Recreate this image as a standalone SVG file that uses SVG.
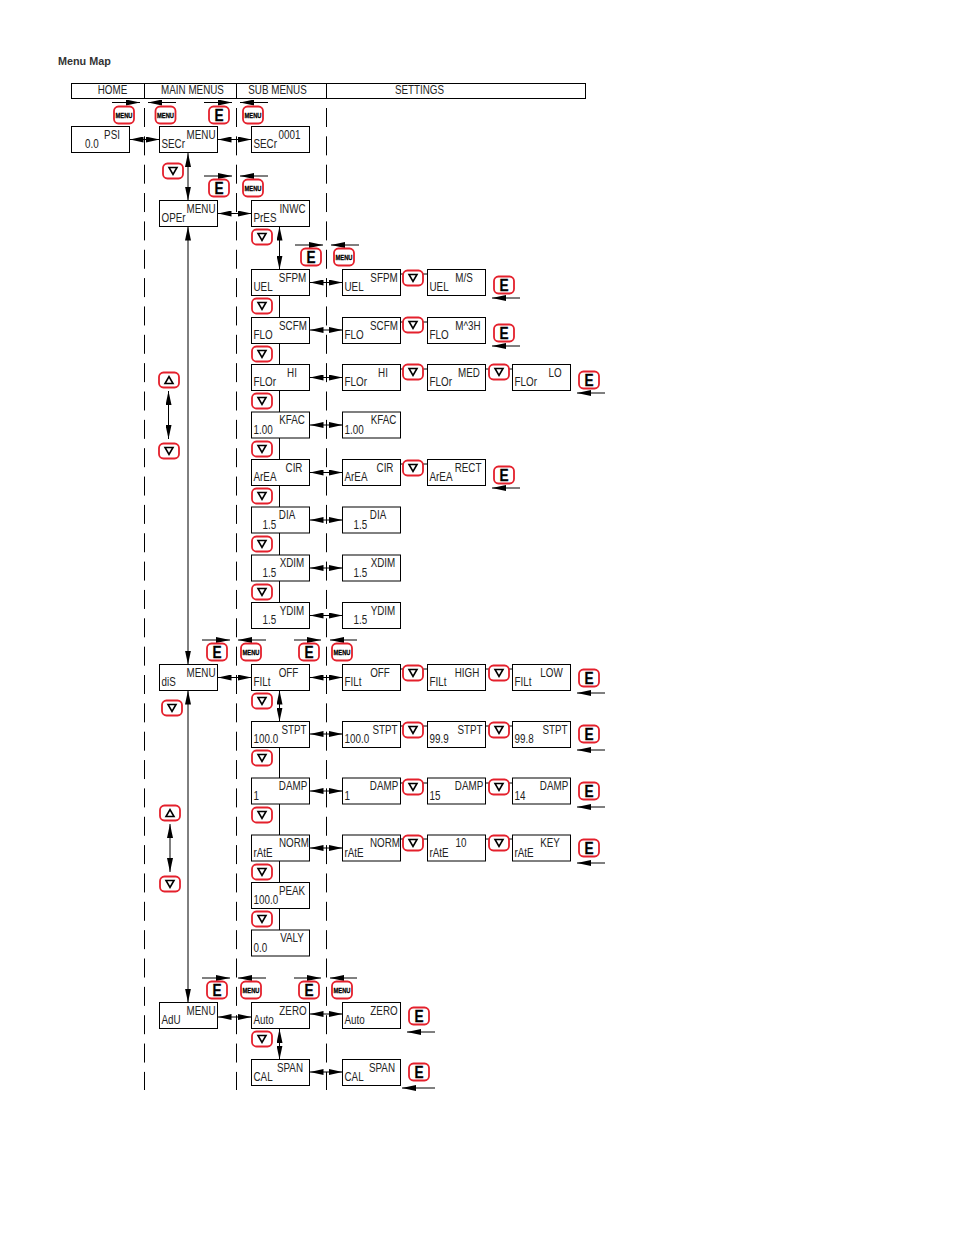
<svg xmlns="http://www.w3.org/2000/svg" width="954" height="1235" viewBox="0 0 954 1235">
<style>
.l{fill:none;stroke:#000;stroke-width:1}
.d{fill:none;stroke:#000;stroke-width:1;stroke-dasharray:19 9.35;stroke-dashoffset:19.35}
.a{fill:none;stroke:#000;stroke-width:1;marker-end:url(#h)}
.aa{fill:none;stroke:#000;stroke-width:1;marker-start:url(#h);marker-end:url(#h)}
.n{fill:#fff;stroke:#000;stroke-width:1}
.b{fill:#fff;stroke:#e4202c;stroke-width:1.8}
.tri{fill:none;stroke:#000;stroke-width:1.6}
text{font-family:"Liberation Sans",Arial,sans-serif;font-size:12px;fill:#222;transform-box:fill-box;transform-origin:0% 50%;transform:scaleX(.82)}
.c{text-anchor:middle;transform-origin:50% 50%}
.e{font-weight:bold;font-size:16px;text-anchor:middle;fill:#000;stroke:#000;stroke-width:.3;transform-origin:50% 50%;transform:scaleX(.85)}
.m{font-weight:bold;font-size:8px;text-anchor:middle;fill:#000;stroke:#000;stroke-width:.3;transform-origin:50% 50%;transform:scaleX(.72)}
.title{font-weight:bold;font-size:10.8px;fill:#333;transform:none}
</style>
<defs>
<marker id="h" viewBox="0 0 14 6" refX="14" refY="3" markerWidth="14" markerHeight="6" markerUnits="userSpaceOnUse" orient="auto-start-reverse"><path d="M0,0L14,3L0,6z" fill="#000"/></marker>
<rect id="box" class="n" width="58" height="26"/>
<rect id="be" class="b" x="-10" y="-8.5" width="20" height="17" rx="4.5"/>
<g id="bd"><rect class="b" x="-10" y="-7.5" width="20" height="15" rx="4.5"/><path class="tri" d="M-4,-3.5H4L0,3.5z"/></g>
<g id="bu"><rect class="b" x="-10" y="-7.5" width="20" height="15" rx="4.5"/><path class="tri" d="M-4,3.5H4L0,-3.5z"/></g>
</defs>

<text class="title" x="58" y="65">Menu Map</text>

<g id="header">
<rect x="71.5" y="83.5" width="514" height="15" fill="#fff" stroke="#000"/>
<path class="l" d="M144.500,83.500V98.500M236.500,83.500V98.500M326.500,83.500V98.500"/>
<text class="c" x="112.500" y="94">HOME</text>
<text class="c" x="192.500" y="94">MAIN MENUS</text>
<text class="c" x="277.500" y="94">SUB MENUS</text>
<text class="c" x="419.500" y="94">SETTINGS</text>
</g>

<g id="connectors">
<path class="d" d="M144.500,99V1090M236.500,99V1090M326.500,99V1090"/>
<path class="a" d="M112,102.500H140"/><path class="a" d="M176,102.500H148"/><path class="a" d="M204,102.500H232"/><path class="a" d="M268,102.500H240"/>
<path class="a" d="M204,176H232"/><path class="a" d="M268,176H240"/>
<path class="a" d="M295,245H323"/><path class="a" d="M359,245H331"/>
<path class="a" d="M202,640H230"/><path class="a" d="M266,640H238"/><path class="a" d="M294,640H321"/><path class="a" d="M357,640H330"/>
<path class="a" d="M202,978H230"/><path class="a" d="M266,978H238"/><path class="a" d="M294,978H321"/><path class="a" d="M357,978H330"/>
<path class="a" d="M520,298H492"/><path class="a" d="M520,346H492"/><path class="a" d="M605,393H577"/><path class="a" d="M520,488H492"/>
<path class="a" d="M605,693H577"/><path class="a" d="M605,750H577"/><path class="a" d="M605,807H577"/><path class="a" d="M605,863H577"/>
<path class="a" d="M435,1032H407"/><path class="a" d="M435,1088H402"/>

<path class="aa" d="M129.500,139.500H159.500"/><path class="aa" d="M217.500,139.500H251.500"/>
<path class="aa" d="M217.500,213.500H251.500"/>
<path class="aa" d="M188,153V200.500"/><path class="aa" d="M188,226.500V664.500"/><path class="aa" d="M188,690.500V1002.500"/>
<path class="aa" d="M168.500,391V439"/><path class="aa" d="M170,824V872"/>
<path class="aa" d="M279.500,226.500V269.500"/><path class="aa" d="M279.500,690.500V721.500"/><path class="aa" d="M279.500,1029V1059.500"/>
<path class="l" d="M279.500,295.500V317M279.500,343V364.500M279.500,390.500V412M279.500,438V459.500M279.500,485.500V507M279.500,533V555M279.500,581V602.500M279.500,747.500V778M279.500,804V835M279.500,861V882.500M279.500,908.500V930"/>
<path class="aa" d="M309.500,282.500H342.500"/><path class="aa" d="M309.500,330H342.500"/><path class="aa" d="M309.500,377.500H342.500"/><path class="aa" d="M309.500,425H342.500"/><path class="aa" d="M309.500,472.500H342.500"/><path class="aa" d="M309.500,520H342.500"/><path class="aa" d="M309.500,568H342.500"/><path class="aa" d="M309.500,615.500H342.500"/>
<path class="aa" d="M217.500,677.500H251.500"/><path class="aa" d="M309.500,677.500H342.500"/><path class="aa" d="M309.500,734H342.500"/><path class="aa" d="M309.500,791H342.500"/><path class="aa" d="M309.500,848H342.500"/>
<path class="aa" d="M217.500,1017H251.500"/><path class="aa" d="M309.500,1014H342.500"/><path class="aa" d="M309.500,1072H342.500"/>
<path class="l" d="M400.500,274H427.500M400.500,322H427.500M400.500,369H427.500M485.500,369H512.500M400.500,464H427.500M400.500,669H427.500M485.500,669H512.500M400.500,726H427.500M485.500,726H512.500M400.500,783H427.500M485.500,783H512.500M400.500,839H427.500M485.500,839H512.500"/>
</g>

<g id="home" transform="translate(71.500 126.500)"><use href="#box"/><text class="c" x="40.500" y="12.500">PSI</text><text x="13.500" y="22">0.0</text></g>
<g id="secr-main" transform="translate(159.500 126.500)"><use href="#box"/><text class="c" x="41.500" y="12.500">MENU</text><text x="2" y="22">SECr</text></g>
<g id="secr-sub" transform="translate(251.500 126.500)"><use href="#box"/><text class="c" x="38" y="12.500">0001</text><text x="2" y="22">SECr</text></g>
<g id="oper-main" transform="translate(159.500 200.500)"><use href="#box"/><text class="c" x="41.500" y="12.500">MENU</text><text x="2" y="22">OPEr</text></g>
<g id="pres" transform="translate(251.500 200.500)"><use href="#box"/><text class="c" x="41" y="12.500">INWC</text><text x="2" y="22">PrES</text></g>

<g id="uel-sub" transform="translate(251.500 269.500)"><use href="#box"/><text class="c" x="41" y="12.500">SFPM</text><text x="2" y="22">UEL</text></g>
<g id="uel-1" transform="translate(342.500 269.500)"><use href="#box"/><text class="c" x="41.500" y="12.500">SFPM</text><text x="2" y="22">UEL</text></g>
<g id="uel-2" transform="translate(427.500 269.500)"><use href="#box"/><text class="c" x="36.500" y="12.500">M/S</text><text x="2" y="22">UEL</text></g>

<g id="flo-sub" transform="translate(251.500 317.500)"><use href="#box"/><text class="c" x="41.500" y="12.500">SCFM</text><text x="2" y="22">FLO</text></g>
<g id="flo-1" transform="translate(342.500 317.500)"><use href="#box"/><text class="c" x="41.500" y="12.500">SCFM</text><text x="2" y="22">FLO</text></g>
<g id="flo-2" transform="translate(427.500 317.500)"><use href="#box"/><text class="c" x="40.500" y="12.500">M^3H</text><text x="2" y="22">FLO</text></g>

<g id="flor-sub" transform="translate(251.500 364.500)"><use href="#box"/><text class="c" x="40.500" y="12.500">HI</text><text x="2" y="22">FLOr</text></g>
<g id="flor-1" transform="translate(342.500 364.500)"><use href="#box"/><text class="c" x="40.500" y="12.500">HI</text><text x="2" y="22">FLOr</text></g>
<g id="flor-2" transform="translate(427.500 364.500)"><use href="#box"/><text class="c" x="41.500" y="12.500">MED</text><text x="2" y="22">FLOr</text></g>
<g id="flor-3" transform="translate(512.500 364.500)"><use href="#box"/><text class="c" x="42.500" y="12.500">LO</text><text x="2" y="22">FLOr</text></g>

<g id="kfac-sub" transform="translate(251.500 412)"><use href="#box"/><text class="c" x="40.500" y="12.500">KFAC</text><text x="2" y="22">1.00</text></g>
<g id="kfac-1" transform="translate(342.500 412)"><use href="#box"/><text class="c" x="41" y="12.500">KFAC</text><text x="2" y="22">1.00</text></g>

<g id="area-sub" transform="translate(251.500 459.500)"><use href="#box"/><text class="c" x="42.500" y="12.500">CIR</text><text x="2" y="22">ArEA</text></g>
<g id="area-1" transform="translate(342.500 459.500)"><use href="#box"/><text class="c" x="42.500" y="12.500">CIR</text><text x="2" y="22">ArEA</text></g>
<g id="area-2" transform="translate(427.500 459.500)"><use href="#box"/><text class="c" x="40.500" y="12.500">RECT</text><text x="2" y="22">ArEA</text></g>

<g id="dia-sub" transform="translate(251.500 507)"><use href="#box"/><text class="c" x="35.500" y="12.500">DIA</text><text x="11" y="22">1.5</text></g>
<g id="dia-1" transform="translate(342.500 507)"><use href="#box"/><text class="c" x="35.500" y="12.500">DIA</text><text x="11" y="22">1.5</text></g>
<g id="xdim-sub" transform="translate(251.500 555)"><use href="#box"/><text class="c" x="40.500" y="12.500">XDIM</text><text x="11" y="22">1.5</text></g>
<g id="xdim-1" transform="translate(342.500 555)"><use href="#box"/><text class="c" x="40.500" y="12.500">XDIM</text><text x="11" y="22">1.5</text></g>
<g id="ydim-sub" transform="translate(251.500 602.500)"><use href="#box"/><text class="c" x="40.500" y="12.500">YDIM</text><text x="11" y="22">1.5</text></g>
<g id="ydim-1" transform="translate(342.500 602.500)"><use href="#box"/><text class="c" x="40.500" y="12.500">YDIM</text><text x="11" y="22">1.5</text></g>

<g id="dis-main" transform="translate(159.500 664.500)"><use href="#box"/><text class="c" x="41.500" y="12.500">MENU</text><text x="2" y="22">diS</text></g>
<g id="filt-sub" transform="translate(251.500 664.500)"><use href="#box"/><text class="c" x="37" y="12.500">OFF</text><text x="2" y="22">FILt</text></g>
<g id="filt-1" transform="translate(342.500 664.500)"><use href="#box"/><text class="c" x="37.500" y="12.500">OFF</text><text x="2" y="22">FILt</text></g>
<g id="filt-2" transform="translate(427.500 664.500)"><use href="#box"/><text class="c" x="39.500" y="12.500">HIGH</text><text x="2" y="22">FILt</text></g>
<g id="filt-3" transform="translate(512.500 664.500)"><use href="#box"/><text class="c" x="39" y="12.500">LOW</text><text x="2" y="22">FILt</text></g>

<g id="stpt-sub" transform="translate(251.500 721.500)"><use href="#box"/><text class="c" x="42.500" y="12.500">STPT</text><text x="2" y="22">100.0</text></g>
<g id="stpt-1" transform="translate(342.500 721.500)"><use href="#box"/><text class="c" x="42.500" y="12.500">STPT</text><text x="2" y="22">100.0</text></g>
<g id="stpt-2" transform="translate(427.500 721.500)"><use href="#box"/><text class="c" x="42.500" y="12.500">STPT</text><text x="2" y="22">99.9</text></g>
<g id="stpt-3" transform="translate(512.500 721.500)"><use href="#box"/><text class="c" x="42.500" y="12.500">STPT</text><text x="2" y="22">99.8</text></g>

<g id="damp-sub" transform="translate(251.500 778)"><use href="#box"/><text class="c" x="41.500" y="12.500">DAMP</text><text x="2" y="22">1</text></g>
<g id="damp-1" transform="translate(342.500 778)"><use href="#box"/><text class="c" x="41.500" y="12.500">DAMP</text><text x="2" y="22">1</text></g>
<g id="damp-2" transform="translate(427.500 778)"><use href="#box"/><text class="c" x="41.500" y="12.500">DAMP</text><text x="2" y="22">15</text></g>
<g id="damp-3" transform="translate(512.500 778)"><use href="#box"/><text class="c" x="41.500" y="12.500">DAMP</text><text x="2" y="22">14</text></g>

<g id="rate-sub" transform="translate(251.500 835)"><use href="#box"/><text class="c" x="42.500" y="12.500">NORM</text><text x="2" y="22">rAtE</text></g>
<g id="rate-1" transform="translate(342.500 835)"><use href="#box"/><text class="c" x="42.500" y="12.500">NORM</text><text x="2" y="22">rAtE</text></g>
<g id="rate-2" transform="translate(427.500 835)"><use href="#box"/><text class="c" x="33.500" y="12.500">10</text><text x="2" y="22">rAtE</text></g>
<g id="rate-3" transform="translate(512.500 835)"><use href="#box"/><text class="c" x="37.500" y="12.500">KEY</text><text x="2" y="22">rAtE</text></g>

<g id="peak" transform="translate(251.500 882.500)"><use href="#box"/><text class="c" x="40.500" y="12.500">PEAK</text><text x="2" y="22">100.0</text></g>
<g id="valy" transform="translate(251.500 930)"><use href="#box"/><text class="c" x="40.500" y="12.500">VALY</text><text x="2" y="22">0.0</text></g>

<g id="adu-main" transform="translate(159.500 1002.500)"><use href="#box"/><text class="c" x="41.500" y="12.500">MENU</text><text x="2" y="22">AdU</text></g>
<g id="auto-sub" transform="translate(251.500 1002.500)"><use href="#box"/><text class="c" x="41.500" y="12.500">ZERO</text><text x="2" y="22">Auto</text></g>
<g id="auto-1" transform="translate(342.500 1002.500)"><use href="#box"/><text class="c" x="41.500" y="12.500">ZERO</text><text x="2" y="22">Auto</text></g>
<g id="cal-sub" transform="translate(251.500 1059.500)"><use href="#box"/><text class="c" x="38.500" y="12.500">SPAN</text><text x="2" y="22">CAL</text></g>
<g id="cal-1" transform="translate(342.500 1059.500)"><use href="#box"/><text class="c" x="39.500" y="12.500">SPAN</text><text x="2" y="22">CAL</text></g>

<g id="buttons-menu">
<g id="m1" transform="translate(124 115)"><use href="#be"/><text class="m" y="3">MENU</text></g>
<g id="m2" transform="translate(165.500 115)"><use href="#be"/><text class="m" y="3">MENU</text></g>
<g id="m3" transform="translate(253 115)"><use href="#be"/><text class="m" y="3">MENU</text></g>
<g id="m4" transform="translate(253 188)"><use href="#be"/><text class="m" y="3">MENU</text></g>
<g id="m5" transform="translate(344 257)"><use href="#be"/><text class="m" y="3">MENU</text></g>
<g id="m6" transform="translate(251 652)"><use href="#be"/><text class="m" y="3">MENU</text></g>
<g id="m7" transform="translate(342 652)"><use href="#be"/><text class="m" y="3">MENU</text></g>
<g id="m8" transform="translate(251 990)"><use href="#be"/><text class="m" y="3">MENU</text></g>
<g id="m9" transform="translate(342 990)"><use href="#be"/><text class="m" y="3">MENU</text></g>
</g>
<g id="buttons-enter">
<g id="e1" transform="translate(219 115)"><use href="#be"/><text class="e" y="6">E</text></g>
<g id="e2" transform="translate(219 188)"><use href="#be"/><text class="e" y="6">E</text></g>
<g id="e3" transform="translate(311 257)"><use href="#be"/><text class="e" y="6">E</text></g>
<g id="e4" transform="translate(504 285)"><use href="#be"/><text class="e" y="6">E</text></g>
<g id="e5" transform="translate(504 333)"><use href="#be"/><text class="e" y="6">E</text></g>
<g id="e6" transform="translate(589 380)"><use href="#be"/><text class="e" y="6">E</text></g>
<g id="e7" transform="translate(504 475)"><use href="#be"/><text class="e" y="6">E</text></g>
<g id="e8" transform="translate(217 652)"><use href="#be"/><text class="e" y="6">E</text></g>
<g id="e9" transform="translate(309 652)"><use href="#be"/><text class="e" y="6">E</text></g>
<g id="e10" transform="translate(589 678)"><use href="#be"/><text class="e" y="6">E</text></g>
<g id="e11" transform="translate(589 734)"><use href="#be"/><text class="e" y="6">E</text></g>
<g id="e12" transform="translate(589 791)"><use href="#be"/><text class="e" y="6">E</text></g>
<g id="e13" transform="translate(589 848)"><use href="#be"/><text class="e" y="6">E</text></g>
<g id="e14" transform="translate(217 990)"><use href="#be"/><text class="e" y="6">E</text></g>
<g id="e15" transform="translate(309 990)"><use href="#be"/><text class="e" y="6">E</text></g>
<g id="e16" transform="translate(419 1016)"><use href="#be"/><text class="e" y="6">E</text></g>
<g id="e17" transform="translate(419 1072)"><use href="#be"/><text class="e" y="6">E</text></g>
</g>
<g id="buttons-arrows">
<use href="#bd" x="173" y="171"/><use href="#bd" x="262" y="237"/><use href="#bd" x="262" y="306"/><use href="#bd" x="262" y="354"/><use href="#bd" x="262" y="401"/><use href="#bd" x="262" y="449"/><use href="#bd" x="262" y="496"/><use href="#bd" x="262" y="544"/><use href="#bd" x="262" y="592"/>
<use href="#bd" x="413" y="278"/><use href="#bd" x="413" y="325"/><use href="#bd" x="413" y="372"/><use href="#bd" x="499" y="372"/><use href="#bd" x="413" y="468"/>
<use href="#bu" x="169" y="380"/><use href="#bd" x="169" y="451"/>
<use href="#bd" x="172" y="708"/><use href="#bu" x="170" y="813"/><use href="#bd" x="170" y="884"/>
<use href="#bd" x="262" y="701"/><use href="#bd" x="262" y="758"/><use href="#bd" x="262" y="815"/><use href="#bd" x="262" y="872"/><use href="#bd" x="262" y="919"/><use href="#bd" x="262" y="1039"/>
<use href="#bd" x="413" y="673"/><use href="#bd" x="499" y="673"/><use href="#bd" x="413" y="730"/><use href="#bd" x="499" y="730"/><use href="#bd" x="413" y="787"/><use href="#bd" x="499" y="787"/><use href="#bd" x="413" y="843"/><use href="#bd" x="499" y="843"/>
</g>
</svg>
